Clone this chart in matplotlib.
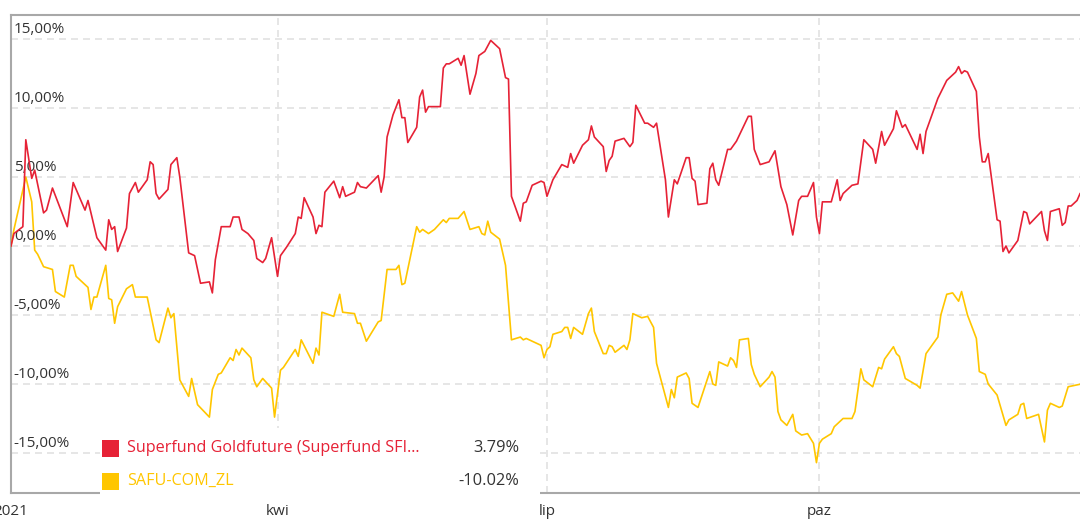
import matplotlib.pyplot as plt
from matplotlib.patches import Rectangle
from matplotlib.transforms import blended_transform_factory

plt.rcParams['font.family'] = ['Open Sans', 'DejaVu Sans']

# days since 2021-01-01 and cumulative return in %
gold_days = [0, 1, 4, 5, 7, 8, 11, 12, 14, 19, 21, 25, 26, 29, 32, 33, 34, 35, 36, 39,
             40, 42, 43, 46, 47, 48, 49, 50, 53, 54, 56, 57, 60, 62, 64, 67, 68, 69, 71, 74,
             75, 77, 78, 80, 82, 83, 85, 86, 88, 90, 91, 93, 96, 97, 98, 99, 102, 103, 104, 105,
             106, 109, 111, 112, 113, 116, 117, 118, 120, 124, 125, 126, 127, 129, 131, 132, 133, 134, 137, 138,
             139, 140, 141, 145, 146, 147, 148, 151, 152, 153, 155, 157, 158, 160, 162, 165, 167, 168, 169, 172,
             173, 174, 176, 179, 180, 181, 183, 186, 188, 189, 190, 193, 195, 196, 197, 200, 201, 202, 203, 204,
             207, 209, 210, 211, 214, 215, 217, 218, 221, 222, 224, 225, 228, 229, 230, 231, 232, 235, 236, 237,
             238, 239, 242, 243, 244, 245, 249, 250, 251, 253, 256, 258, 260, 262, 264, 266, 267, 269, 271, 272,
             273, 274, 277, 279, 280, 281, 284, 286, 288, 291, 292, 294, 295, 298, 299, 301, 302, 306, 307, 308,
             309, 313, 316, 319, 320, 321, 322, 323, 326, 327, 328, 329, 330, 333, 334, 335, 336, 337, 340, 342,
             343, 344, 348, 349, 350, 351, 354, 355, 356, 357, 358, 360, 361]
gold_ret = [0.0, 0.9, 1.4, 7.7, 4.9, 5.5, 2.4, 2.6, 4.2, 1.4, 4.6, 2.6, 3.3, 0.6, -0.3, 1.9, 1.2, 1.4, -0.4, 1.3,
            3.8, 4.6, 3.9, 4.8, 6.1, 5.9, 3.8, 3.4, 4.1, 5.9, 6.4, 5.0, -0.5, -0.7, -2.7, -2.6, -3.4, -1.0, 1.4, 1.4,
            2.1, 2.1, 1.2, 0.9, 0.4, -0.9, -1.2, -0.9, 0.6, -2.2, -0.7, -0.1, 0.9, 2.1, 2.0, 3.5, 2.1, 0.9, 1.5, 1.4,
            3.9, 4.7, 3.5, 4.3, 3.6, 3.9, 4.6, 4.3, 4.2, 5.1, 3.9, 5.0, 7.9, 9.5, 10.6, 9.3, 9.3, 7.5, 8.6, 10.8,
            11.3, 9.7, 10.1, 10.1, 12.9, 13.2, 13.2, 13.6, 13.1, 13.8, 11.0, 12.5, 13.8, 14.1, 14.9, 14.3, 12.2, 12.1, 3.6, 1.8,
            3.1, 3.2, 4.4, 4.7, 4.6, 3.6, 4.8, 5.9, 5.7, 6.7, 6.0, 7.3, 7.7, 8.7, 7.9, 7.2, 5.4, 6.2, 6.5, 7.6,
            7.8, 7.2, 7.5, 10.2, 8.9, 8.9, 8.6, 8.9, 4.8, 2.1, 4.8, 4.5, 6.4, 6.4, 4.9, 4.7, 3.0, 3.1, 5.6, 6.0,
            4.8, 4.4, 7.0, 7.0, 7.3, 7.6, 9.4, 9.4, 7.0, 5.9, 6.1, 6.9, 4.3, 3.0, 0.8, 3.3, 3.6, 3.6, 4.6, 2.1,
            0.9, 3.2, 3.2, 4.8, 3.3, 3.8, 4.4, 4.5, 7.7, 7.0, 6.0, 8.3, 7.3, 8.5, 9.8, 8.6, 8.8, 7.0, 8.1, 6.7,
            8.3, 10.7, 12.0, 12.6, 13.0, 12.5, 12.7, 12.6, 11.2, 7.9, 6.1, 6.1, 6.7, 1.9, 1.8, -0.4, 0.0, -0.5, 0.4, 2.5,
            2.4, 1.6, 2.5, 1.1, 0.4, 2.5, 2.7, 1.5, 1.7, 2.9, 2.9, 3.3, 3.79]

safu_days = [0, 1, 5, 7, 8, 9, 11, 14, 15, 18, 20, 21, 22, 26, 27, 28, 29, 32, 33, 34,
             35, 36, 39, 41, 42, 46, 49, 50, 53, 54, 55, 57, 60, 61, 63, 67, 68, 70, 71, 74,
             75, 76, 77, 78, 81, 82, 83, 85, 88, 89, 91, 92, 96, 97, 98, 102, 103, 104, 105, 109,
             111, 112, 116, 117, 118, 120, 124, 125, 127, 130, 131, 132, 133, 137, 138, 139, 141, 143, 146, 147,
             148, 151, 153, 155, 158, 159, 160, 161, 162, 165, 167, 169, 172, 173, 174, 176, 179, 180, 181, 182,
             183, 186, 187, 188, 189, 190, 193, 195, 196, 197, 200, 201, 202, 203, 204, 207, 208, 209, 210, 213,
             215, 217, 218, 222, 223, 224, 225, 228, 229, 230, 232, 236, 237, 238, 239, 242, 243, 244, 245, 246,
             249, 250, 251, 253, 256, 257, 258, 259, 260, 262, 264, 265, 267, 269, 271, 272, 273, 274, 277, 278,
             281, 284, 285, 287, 288, 291, 293, 294, 295, 298, 299, 300, 302, 306, 307, 309, 313, 314, 316, 318,
             320, 321, 323, 326, 327, 329, 330, 333, 336, 337, 340, 341, 342, 343, 347, 349, 350, 351, 354, 355,
             357, 361]
safu_ret = [0.0, 1.2, 5.0, 3.2, -0.3, -0.6, -1.5, -1.7, -3.3, -3.7, -1.4, -1.4, -2.2, -3.0, -4.6, -3.7, -3.7, -1.4, -3.8, -3.9,
            -5.6, -4.4, -3.1, -2.8, -3.7, -3.7, -6.8, -7.0, -4.5, -5.2, -4.9, -9.7, -10.9, -9.6, -11.5, -12.4, -10.4, -9.3, -9.2, -8.1,
            -8.3, -7.5, -7.9, -7.4, -8.1, -9.7, -10.2, -9.6, -10.3, -12.4, -9.0, -8.8, -7.5, -8.0, -6.8, -8.5, -7.4, -7.9, -4.8, -5.1,
            -3.5, -4.8, -4.9, -5.6, -5.6, -6.9, -5.5, -5.4, -1.7, -1.7, -1.4, -2.8, -2.7, 1.4, 1.0, 1.2, 0.9, 1.2, 1.9, 1.7,
            2.0, 2.0, 2.5, 1.2, 1.4, 0.9, 0.8, 1.8, 1.0, 0.5, -1.4, -6.8, -6.6, -6.8, -6.7, -6.9, -7.2, -8.1, -7.5, -7.3,
            -6.4, -6.2, -5.9, -5.9, -6.7, -5.9, -6.4, -4.9, -4.5, -6.2, -7.8, -7.8, -7.2, -7.3, -7.7, -7.2, -7.5, -6.8, -4.9, -5.2,
            -5.1, -5.9, -8.5, -11.7, -10.4, -11.0, -9.5, -9.2, -9.6, -11.4, -11.7, -9.1, -10.0, -10.1, -8.4, -8.7, -8.1, -8.3, -8.8, -6.8,
            -6.7, -8.6, -9.3, -10.2, -9.5, -9.1, -9.5, -12.0, -12.6, -13.0, -12.2, -13.4, -13.7, -13.6, -14.3, -15.7, -14.3, -14.0, -13.6, -13.1,
            -12.5, -12.5, -12.0, -8.9, -9.7, -10.2, -8.8, -8.9, -8.2, -7.3, -7.8, -8.0, -9.6, -10.1, -10.3, -7.8, -6.6, -5.0, -3.5, -3.4,
            -4.0, -3.3, -5.0, -6.7, -9.1, -9.3, -10.0, -10.8, -13.0, -12.6, -12.2, -11.5, -11.4, -12.5, -12.2, -14.2, -11.9, -11.4, -11.7, -11.6,
            -10.2, -10.02]

names = ['Superfund Goldfuture (Superfund SFI...', 'SAFU-COM_ZL']
colors = ['#e62236', '#ffc600']
month_days = [0, 90, 181, 273]
month_labels = ['2021', 'kwi', 'lip', 'paz']
y_ticks = [15, 10, 5, 0, -5, -10, -15]

W, H = 1080, 520
fig = plt.figure(figsize=(W / 100, H / 100), dpi=100)
ax = fig.add_axes([11 / W, 1 - 493 / H, 1 - 11 / W, (493 - 15) / H])

ax.plot(safu_days, safu_ret, color=colors[1], lw=1.2, zorder=3)
ax.plot(gold_days, gold_ret, color=colors[0], lw=1.2, zorder=4)

ax.set_xlim(0, 361)
ax.set_ylim(-17.9, 16.74)
ax.set_yticks(y_ticks)
ax.set_yticklabels([])
ax.set_xticks(month_days, month_labels)
ax.tick_params(axis='both', length=0)
ax.tick_params(axis='x', pad=8, labelsize=11, labelcolor='#333333')
ax.grid(color='#e2e2e2', linestyle=(0, (4.2, 3)), linewidth=1.2)
ax.set_axisbelow(True)

for side in ['top', 'left', 'bottom']:
    ax.spines[side].set_color('#a8a8a8')
    ax.spines[side].set_linewidth(1.5)
ax.spines['right'].set_visible(False)

trans = blended_transform_factory(ax.transAxes, ax.transData)
for v in y_ticks:
    ax.annotate(f'{v:.2f}%'.replace('.', ','), xy=(0, v), xycoords=trans,
                xytext=(2, 4.3), textcoords='offset points',
                ha='left', va='baseline', fontsize=11, color='#333333')

# legend box covering the bottom-left of the plot
fig.add_artist(Rectangle((100 / W, 1 - 497 / H), 440 / W, 69 / H, transform=fig.transFigure,
                         facecolor='white', edgecolor='none', zorder=5))
last_vals = [gold_ret[-1], safu_ret[-1]]
for i, (name, col, val) in enumerate(zip(names, colors, last_vals)):
    yc = 448 + i * 33
    fig.add_artist(Rectangle((102 / W, 1 - (yc + 8.5) / H), 17 / W, 17 / H, transform=fig.transFigure,
                             facecolor=col, edgecolor='none', zorder=6))
    fig.text(127 / W, 1 - yc / H, name, color=col, fontsize=11.6, ha='left', va='center', zorder=6)
    fig.text(519 / W, 1 - yc / H, f'{val:.2f}%', color='#333333', fontsize=11.8,
             ha='right', va='center', zorder=6)

fig.savefig('out.png', dpi=100)
